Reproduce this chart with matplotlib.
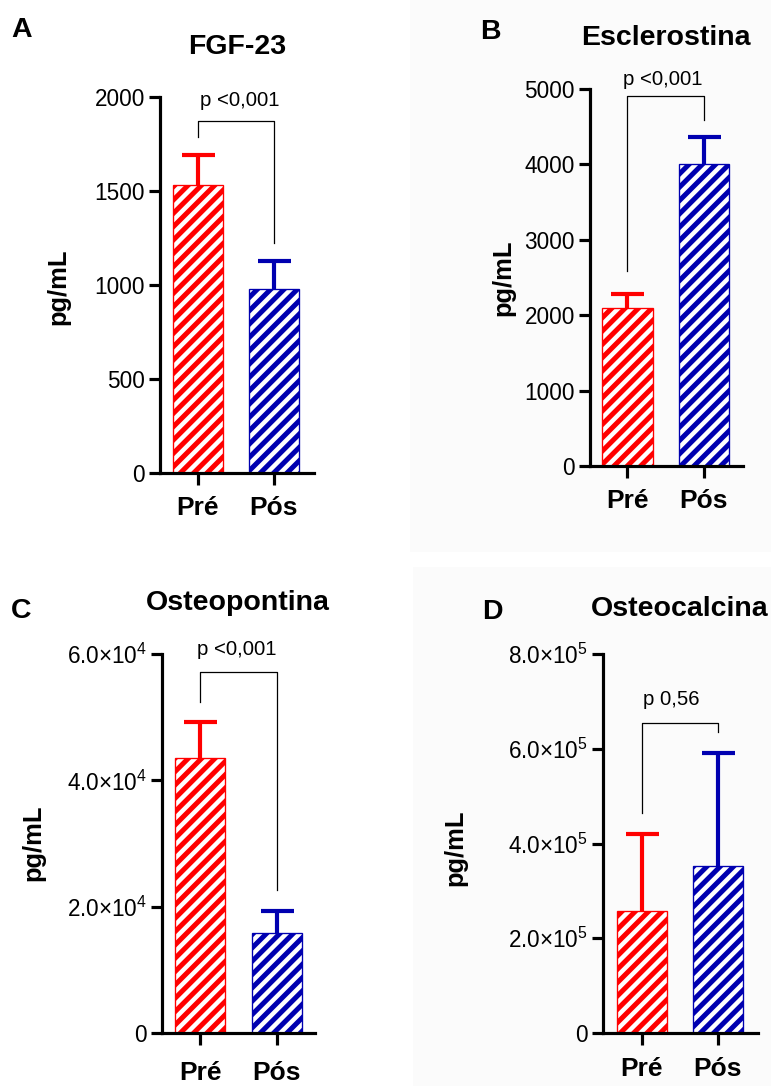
import matplotlib
matplotlib.use("Agg")
import matplotlib.pyplot as plt
from matplotlib.patches import Rectangle
from matplotlib.ticker import FuncFormatter

# dados (média e erro superior)
grupos = ["Pré", "Pós"]
cores = ["#ff0000", "#0000b0"]

fgf23_media = [1530, 980]
fgf23_erro = [160, 150]

esclerostina_media = [2095, 4000]
esclerostina_erro = [185, 365]

osteopontina_media = [43500, 15900]
osteopontina_erro = [5800, 3400]

osteocalcina_media = [258000, 353000]
osteocalcina_erro = [163000, 239000]

p_valores = ["p <0,001", "p <0,001", "p <0,001", "p 0,56"]

DPI = 120
W, H = 771, 1086

plt.rcParams["font.family"] = ["Liberation Sans", "DejaVu Sans"]
plt.rcParams["mathtext.fontset"] = "custom"
plt.rcParams["mathtext.rm"] = "Liberation Sans"
plt.rcParams["mathtext.it"] = "Liberation Sans:italic"
plt.rcParams["mathtext.bf"] = "Liberation Sans:bold"
plt.rcParams["hatch.linewidth"] = 3.0

fig = plt.figure(figsize=(W / DPI, H / DPI), dpi=DPI)

# fundo levemente cinza dos painéis B e D
for (x0, y0, x1, y1) in [(410, 0, 771, 552), (413, 567, 771, 1086)]:
    fig.patches.append(Rectangle((x0 / W, 1 - y1 / H), (x1 - x0) / W, (y1 - y0) / H,
                                 transform=fig.transFigure, facecolor="#fbfbfb",
                                 edgecolor="none", zorder=-10))


def sci_fmt(v, pos):
    if v == 0:
        return "0"
    exp = 0
    m = v
    while abs(m) >= 10:
        m /= 10
        exp += 1
    return r"$\mathregular{%.1f{\times}10^{%d}}$" % (m, exp)


def painel(rect, media, erro, ymax, ystep, titulo, letra, p_txt,
           xlim, colchete, p_pos, titulo_pos, letra_pos, ylabel_pos, xpad, fmt=None):
    l, t, r, b = rect
    ax = fig.add_axes([l / W, 1 - b / H, (r - l) / W, (b - t) / H])
    ax.set_facecolor("none")
    x = list(range(len(grupos)))
    for i in x:
        ax.bar(i, media[i], width=0.66, color="white", edgecolor=cores[i],
               hatch="///", linewidth=0.8, zorder=2)
        # só a barra de erro superior
        ax.plot([i, i], [media[i], media[i] + erro[i]], color=cores[i],
                linewidth=2.5, solid_capstyle="butt", zorder=3)
        ax.plot([i], [media[i] + erro[i]], marker="_", markersize=19.8,
                markeredgewidth=2.5, color=cores[i], zorder=3)
    ax.set_xlim(*xlim)
    ax.set_ylim(0, ymax)
    ax.set_yticks([k * ystep for k in range(int(round(ymax / ystep)) + 1)])
    if fmt is not None:
        ax.yaxis.set_major_formatter(FuncFormatter(fmt))
    ax.set_xticks(x)
    ax.set_xticklabels(grupos, fontsize=15.8, fontweight="bold")
    for s in ["top", "right"]:
        ax.spines[s].set_visible(False)
    for s in ["left", "bottom"]:
        ax.spines[s].set_linewidth(1.9)
    ax.tick_params(axis="y", length=6.8, width=1.9, labelsize=13.5, pad=2.2)
    ax.tick_params(axis="x", length=7.2, width=1.9, pad=xpad)

    # colchete de significância
    topo, esq, dir_ = colchete
    ax.plot([0, 0, 1, 1], [esq * ymax, topo * ymax, topo * ymax, dir_ * ymax],
            color="black", linewidth=0.75, clip_on=False, zorder=4)
    ax.text(p_pos[0], p_pos[1] * ymax, p_txt, fontsize=12.2, ha="center",
            va="center", clip_on=False)

    fig.text(titulo_pos[0] / W, 1 - titulo_pos[1] / H, titulo, fontsize=17.1,
             fontweight="bold", ha="center", va="center")
    fig.text(letra_pos[0] / W, 1 - letra_pos[1] / H, letra, fontsize=17.1,
             fontweight="bold", ha="center", va="center")
    fig.text(ylabel_pos[0] / W, 1 - ylabel_pos[1] / H, "pg/mL", fontsize=15.3,
             fontweight="bold", rotation=90, ha="center", va="center")
    return ax


painel((160, 97, 314, 473), fgf23_media, fgf23_erro, 2000, 500, "FGF-23", "A",
       p_valores[0], (-0.5, 1.53), (0.936, 0.894, 0.612), (0.55, 0.992),
       (237, 47), (22, 30), (58, 287), 6.3)

painel((590, 89, 743, 466), esclerostina_media, esclerostina_erro, 5000, 1000,
       "Esclerostina", "B", p_valores[1], (-0.49, 1.51), (0.981, 0.517, 0.918),
       (0.46, 1.024), (666, 38), (490, 32), (503, 278), 6.3)

painel((162, 654, 315, 1033), osteopontina_media, osteopontina_erro, 60000, 20000,
       "Osteopontina", "C", p_valores[2], (-0.5, 1.5), (0.9525, 0.873, 0.377),
       (0.48, 1.013), (238, 603), (21, 611), (33, 843), 9.9, fmt=sci_fmt)

painel((603, 654, 758, 1033), osteocalcina_media, osteocalcina_erro, 800000, 200000,
       "Osteocalcina", "D", p_valores[3], (-0.51, 1.53), (0.818, 0.580, 0.794),
       (0.39, 0.881), (680, 609), (492, 612), (455, 848), 7.2, fmt=sci_fmt)

fig.savefig("out.png", dpi=DPI)
